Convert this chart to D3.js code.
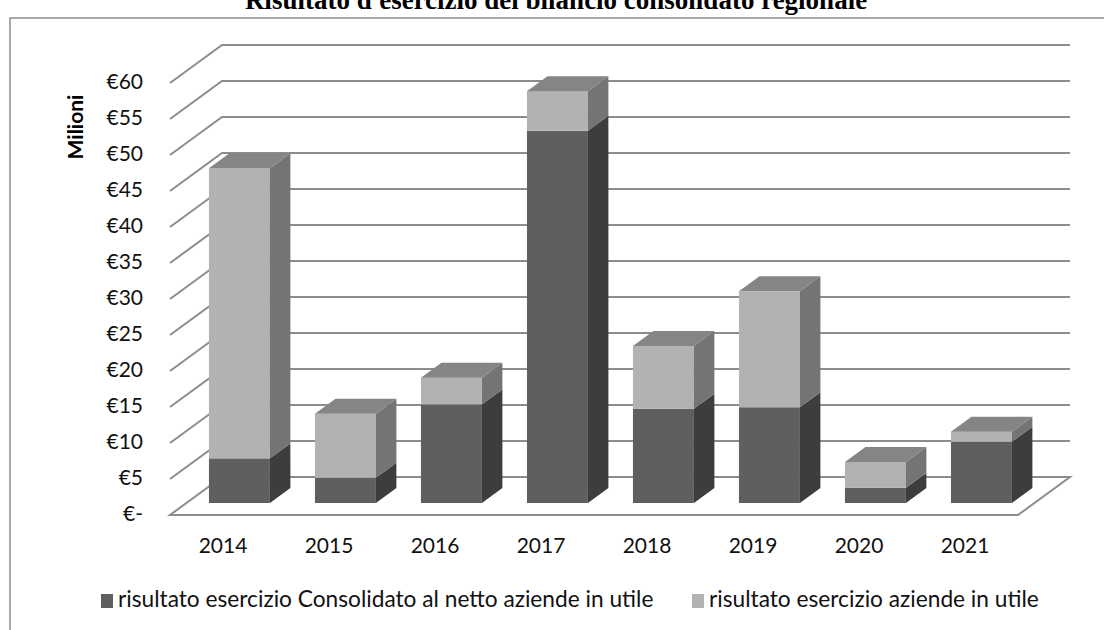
<!DOCTYPE html>
<html>
<head>
<meta charset="utf-8">
<script src="https://cdn.jsdelivr.net/npm/d3@7"></script>
<style>
  body { margin: 0; background: white; }
  svg { display: block; }
</style>
</head>
<body>
<svg id="chart"></svg>
<script>
const years = ['2014', '2015', '2016', '2017', '2018', '2019', '2020', '2021'];
// milioni di euro
const consolidato = [6.2, 3.5, 13.7, 51.7, 13.1, 13.3, 2.1, 8.5];
const aziendeUtile = [40.3, 8.9, 3.7, 5.5, 8.7, 16.1, 3.6, 1.4];
const ticks = [0, 5, 10, 15, 20, 25, 30, 35, 40, 45, 50, 55, 60];
const seriesNames = [
  'risultato esercizio Consolidato al netto aziende in utile',
  'risultato esercizio aziende in utile'
];

const width = 1104;
const height = 630;
const FONT = 'Lato, "Open Sans", sans-serif';

// depth of the floor (oblique projection)
const DX = 52, DY = -38;
const t0 = 0.316, t1 = 0.71;   // bars sit between these depths

const svg = d3.select('#chart')
  .attr('width', width)
  .attr('height', height);

const x = d3.scaleBand()
  .domain(years)
  .range([170, 1018])
  .paddingInner(0.425)
  .paddingOuter(0.2125);

const y = d3.scaleLinear()
  .domain([0, 60])
  .range([515, 83]);

function P(px, py, t) {
  return [px + DX * t, py + DY * t];
}

// frame
svg.append('rect')
  .attr('x', 10)
  .attr('y', 18)
  .attr('width', 1110)
  .attr('height', 640)
  .style('fill', 'none')
  .style('stroke', '#8c8c8c')
  .style('stroke-width', 1.5);

// title (cut at the top edge, as in the source)
svg.append('text')
  .attr('x', 556)
  .attr('y', 9)
  .attr('text-anchor', 'middle')
  .style('font-family', '"Liberation Serif", "Times New Roman", serif')
  .style('font-weight', 'bold')
  .style('font-size', '27px')
  .text("Risultato d'esercizio del bilancio consolidato regionale");

const x0 = x.range()[0], x1 = x.range()[1];

// floor
const floor = [P(x0, y(0), 0), P(x1, y(0), 0), P(x1, y(0), 1), P(x0, y(0), 1)];
svg.append('polygon')
  .attr('points', floor.map(p => p.join(',')).join(' '))
  .style('fill', 'white')
  .style('stroke', '#8c8c8c')
  .style('stroke-width', 2);

// grid lines: side wall diagonal + back wall horizontal
const grid = svg.append('g');
ticks.filter(v => v > 0).forEach(v => {
  const a = P(x0, y(v), 0), b = P(x0, y(v), 1), c = P(x1, y(v), 1);
  grid.append('polyline')
    .attr('points', [a, b, c].map(p => p.join(',')).join(' '))
    .style('fill', 'none')
    .style('stroke', '#8c8c8c')
    .style('stroke-width', 2);
});

// tick labels
svg.append('g').selectAll('text')
  .data(ticks)
  .join('text')
  .attr('x', 143)
  .attr('y', d => y(d) + 1)
  .attr('text-anchor', 'end')
  .attr('dominant-baseline', 'middle')
  .style('font-family', FONT)
  .style('font-size', '21px')
  .style('fill', '#111')
  .text(d => d === 0 ? '€-' : '€' + d);

// axis title
svg.append('text')
  .attr('transform', 'translate(78,127) rotate(-90)')
  .attr('text-anchor', 'middle')
  .attr('dominant-baseline', 'middle')
  .style('font-family', FONT)
  .style('font-weight', 'bold')
  .style('font-size', '21px')
  .text('Milioni');

// year labels
svg.append('g').selectAll('text')
  .data(years)
  .join('text')
  .attr('x', d => x(d) + x.bandwidth() / 2)
  .attr('y', 548)
  .attr('text-anchor', 'middle')
  .attr('dominant-baseline', 'middle')
  .style('font-family', FONT)
  .style('font-size', '21px')
  .style('fill', '#111')
  .text(d => d);

// stacked 3d bars
const colors = [
  { front: '#5f5f5f', side: '#3d3d3d' },
  { front: '#b2b2b2', side: '#747474' }
];
const topColor = '#858585';

const stackData = years.map((yr, i) => ({ year: yr, a: consolidato[i], b: aziendeUtile[i] }));
const stacked = d3.stack().keys(['a', 'b'])(stackData);

const bars = svg.append('g');
years.forEach((yr, i) => {
  const bx = x(yr), bw = x.bandwidth();
  const g = bars.append('g');
  stacked.forEach((s, k) => {
    const lo = s[i][0], hi = s[i][1];
    if (hi - lo <= 0) return;
    const fTL = P(bx, y(hi), t0), fBR = P(bx + bw, y(lo), t0);
    g.append('rect')
      .attr('x', fTL[0])
      .attr('y', fTL[1])
      .attr('width', bw)
      .attr('height', fBR[1] - fTL[1])
      .style('fill', colors[k].front);
    const side = [P(bx + bw, y(hi), t0), P(bx + bw, y(hi), t1), P(bx + bw, y(lo), t1), P(bx + bw, y(lo), t0)];
    g.append('polygon')
      .attr('points', side.map(p => p.join(',')).join(' '))
      .style('fill', colors[k].side);
  });
  const total = consolidato[i] + aziendeUtile[i];
  const top = [P(bx, y(total), t0), P(bx + bw, y(total), t0), P(bx + bw, y(total), t1), P(bx, y(total), t1)];
  g.append('polygon')
    .attr('points', top.map(p => p.join(',')).join(' '))
    .style('fill', topColor);
});

// legend
const legendX = [101, 692];
const legend = svg.append('g');
seriesNames.forEach((name, k) => {
  legend.append('rect')
    .attr('x', legendX[k])
    .attr('y', 594)
    .attr('width', 12)
    .attr('height', 14)
    .style('fill', colors[k].front);
  legend.append('text')
    .attr('x', legendX[k] + 17)
    .attr('y', 601)
    .attr('dominant-baseline', 'middle')
    .style('font-family', FONT)
    .style('font-size', '22.7px')
    .style('fill', '#111')
    .text(name);
});
</script>
</body>
</html>
